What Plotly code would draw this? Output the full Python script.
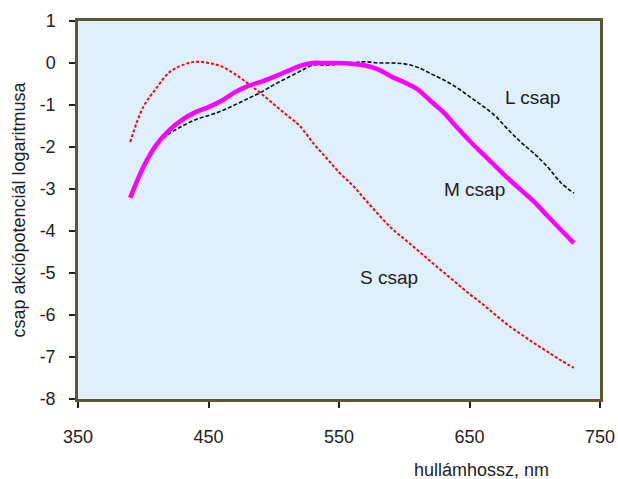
import plotly.graph_objects as go

wavelength = [390, 400, 410, 420, 430, 440, 450, 460, 470, 480, 490, 500, 510, 520, 530,
              540, 550, 560, 570, 580, 590, 600, 610, 620, 630, 640, 650, 660, 670, 680,
              690, 700, 710, 720, 730]

s_cone = [-1.88, -1.05, -0.6, -0.22, -0.05, 0.03, 0.0, -0.08, -0.26, -0.48, -0.72, -0.98,
          -1.24, -1.5, -1.9, -2.25, -2.6, -2.9, -3.25, -3.6, -3.93, -4.19, -4.45, -4.72,
          -4.98, -5.24, -5.5, -5.74, -6.0, -6.25, -6.47, -6.68, -6.88, -7.08, -7.26]

m_cone = [-3.21, -2.48, -1.95, -1.6, -1.35, -1.17, -1.05, -0.9, -0.7, -0.55, -0.45, -0.33,
          -0.2, -0.07, 0.0, 0.0, 0.0, -0.02, -0.06, -0.15, -0.32, -0.46, -0.62, -0.9,
          -1.17, -1.52, -1.85, -2.16, -2.46, -2.76, -3.04, -3.32, -3.65, -3.97, -4.29]

l_cone = [-3.14, -2.45, -1.95, -1.68, -1.5, -1.35, -1.25, -1.14, -1.0, -0.85, -0.7, -0.52,
          -0.36, -0.2, -0.05, -0.05, -0.03, 0.0, 0.03, 0.0, 0.0, -0.02, -0.1, -0.25,
          -0.4, -0.58, -0.8, -1.02, -1.27, -1.6, -1.9, -2.17, -2.48, -2.85, -3.1]

x_ticks = [350, 450, 550, 650, 750]
y_ticks = [1, 0, -1, -2, -3, -4, -5, -6, -7, -8]

labels = ["L csap", "M csap", "S csap"]
label_x = [698, 654, 588]
label_y = [-0.81, -3.02, -5.1]

x_title = "hullámhossz, nm"
y_title = "csap akciópotenciál logaritmusa"

FONT = "Liberation Sans, Arial, sans-serif"
AXC = "#5c5632"
TXT = "#222222"

W, H = 618, 479
L, T, R, B = 78, 21, 18, 80

fig = go.Figure()
fig.add_trace(go.Scatter(x=wavelength, y=s_cone, mode="lines",
                         line=dict(color="#ff0000", width=2, dash="3px,2px", shape="spline"),
                         name="S"))
fig.add_trace(go.Scatter(x=wavelength, y=l_cone, mode="lines",
                         line=dict(color="#0a0a30", width=1.6, dash="4px,2px", shape="spline"),
                         name="L"))
fig.add_trace(go.Scatter(x=wavelength, y=m_cone, mode="lines",
                         line=dict(color="#ff00ff", width=4.5, shape="spline"), name="M"))

for t, x, y in zip(labels, label_x, label_y):
    fig.add_annotation(x=x, y=y, text=t, showarrow=False,
                       font=dict(family=FONT, size=19, color=TXT))

plot_w = W - L - R
plot_h = H - T - B
fig.add_annotation(x=(481 - L) / plot_w, y=-(470 - (H - B)) / plot_h,
                   xref="paper", yref="paper", text=x_title, showarrow=False,
                   xanchor="center", yanchor="middle",
                   font=dict(family=FONT, size=18, color=TXT))

fig.update_layout(
    width=W, height=H,
    margin=dict(l=L, r=R, t=T, b=B, autoexpand=False),
    paper_bgcolor="white",
    plot_bgcolor="#ddf0fc",
    showlegend=False,
    font=dict(family=FONT, size=18, color=TXT),
)
fig.update_xaxes(range=[350, 750], tickvals=x_ticks, ticktext=[str(v) for v in x_ticks],
                 showgrid=False, zeroline=False, showline=True, linecolor=AXC, linewidth=2.5,
                 mirror=True, ticks="outside", ticklen=6, tickcolor=TXT, tickwidth=1.5,
                 ticklabelstandoff=14, automargin=False)
fig.update_yaxes(range=[-8, 1], tickvals=y_ticks, ticktext=[str(v) for v in y_ticks],
                 showgrid=False, zeroline=False, showline=True, linecolor=AXC, linewidth=2.5,
                 mirror=True, ticks="outside", ticklen=6, tickcolor=TXT, tickwidth=1.5,
                 ticklabelstandoff=10, automargin=False,
                 title=dict(text=y_title, font=dict(size=18), standoff=10))
fig.write_html("out.html", config={"displayModeBar": False},
               post_script="document.body.style.margin='0';document.body.style.overflow='hidden';")
